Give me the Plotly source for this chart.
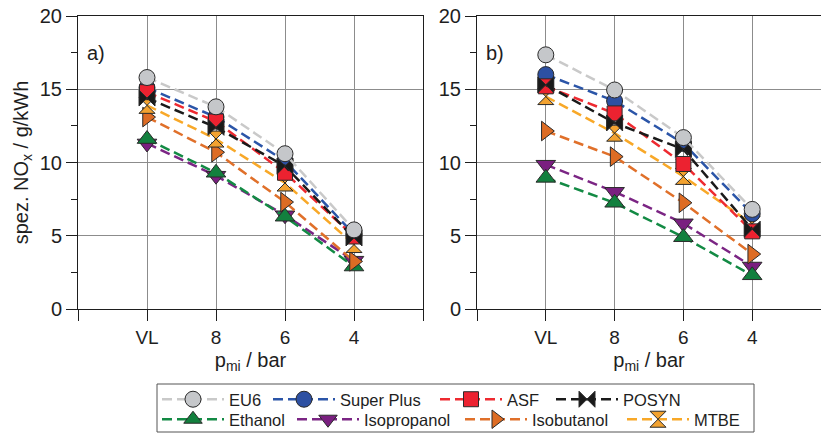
import plotly.graph_objects as go

# ---------------- data ----------------
categories = ["VL", "8", "6", "4"]

series_names = ["EU6", "Super Plus", "ASF", "POSYN",
                "Ethanol", "Isopropanol", "Isobutanol", "MTBE"]

# panel a)
eu6_a = [15.8, 13.8, 10.6, 5.4]
superplus_a = [15.1, 13.1, 10.1, 5.1]
asf_a = [14.8, 12.8, 9.3, 4.95]
posyn_a = [14.4, 12.4, 9.75, 4.85]
ethanol_a = [11.6, 9.3, 6.3, 2.9]
isopropanol_a = [11.3, 9.1, 6.4, 3.3]
isobutanol_a = [13.1, 10.7, 7.3, 3.25]
mtbe_a = [13.9, 11.6, 8.6, 4.4]

# panel b)
eu6_b = [17.35, 14.95, 11.7, 6.8]
superplus_b = [16.0, 14.2, 11.3, 6.5]
asf_b = [15.2, 13.35, 9.9, 5.3]
posyn_b = [15.3, 12.7, 10.9, 5.45]
ethanol_b = [8.95, 7.25, 4.9, 2.3]
isopropanol_b = [9.85, 8.0, 5.85, 2.9]
isobutanol_b = [12.15, 10.4, 7.25, 3.75]
mtbe_b = [14.5, 12.0, 9.05, 5.8]

values_a = {"EU6": eu6_a, "Super Plus": superplus_a, "ASF": asf_a, "POSYN": posyn_a,
            "Ethanol": ethanol_a, "Isopropanol": isopropanol_a,
            "Isobutanol": isobutanol_a, "MTBE": mtbe_a}
values_b = {"EU6": eu6_b, "Super Plus": superplus_b, "ASF": asf_b, "POSYN": posyn_b,
            "Ethanol": ethanol_b, "Isopropanol": isopropanol_b,
            "Isobutanol": isobutanol_b, "MTBE": mtbe_b}

# ---------------- styles ----------------
styles = {
    "EU6":         dict(line="#c9c9c9", fill="#c5c7ca", symbol="circle", size=16),
    "Super Plus":  dict(line="#2b55a8", fill="#2d50a2", symbol="circle", size=16),
    "ASF":         dict(line="#ee2a30", fill="#ec2230", symbol="square", size=15),
    "POSYN":       dict(line="#1a1a1a", fill="#1a1a1a", symbol="bowtie", size=16),
    "Ethanol":     dict(line="#138a44", fill="#12803e", symbol="triangle-up", size=17),
    "Isopropanol": dict(line="#7b2584", fill="#7a1f80", symbol="triangle-down", size=17),
    "Isobutanol":  dict(line="#e0702a", fill="#dd6c24", symbol="triangle-right", size=17),
    "MTBE":        dict(line="#f8a828", fill="#f2a230", symbol="hourglass", size=16),
}
# drawing order (last on top)
draw_order = ["Isopropanol", "Ethanol", "Isobutanol", "MTBE",
              "Super Plus", "ASF", "POSYN", "EU6"]

# legend entry placement (pixel coords of the start of the legend line, row centre)
legend_slots = {
    "EU6": (162, 399), "Super Plus": (273, 399), "ASF": (440, 399), "POSYN": (556, 399),
    "Ethanol": (162, 419), "Isopropanol": (297, 419), "Isobutanol": (465, 419), "MTBE": (627, 419),
}

xpos = list(range(len(categories)))

# ---------------- geometry ----------------
W, H = 821, 433
L, R, T = 78, 0, 16
B = H - 309
pw = W - L - R
ph = H - T - B
FONT = "Liberation Sans, Arial, Helvetica, sans-serif"
ink = "#1e1e1e"
grid = "#8c8c8c"


def px_x(px):
    return (px - L) / pw


def px_y(py):
    return (H - B - py) / ph


fig = go.Figure()
legend_ids = {name: ("legend" if i == 0 else "legend%d" % (i + 1))
              for i, name in enumerate(series_names)}

for panel, vals, xa, ya in [("a", values_a, "x", "y"), ("b", values_b, "x2", "y2")]:
    for name in draw_order:
        st = styles[name]
        fig.add_trace(go.Scatter(
            x=xpos, y=vals[name], mode="lines+markers", name=name,
            xaxis=xa, yaxis=ya,
            line=dict(color=st["line"], width=2.5, dash="10px,5px"),
            marker=dict(symbol=st["symbol"], size=st["size"], color=st["fill"],
                        line=dict(color="#2a2a2a", width=1)),
            showlegend=(panel == "a"),
            legend=legend_ids[name],
        ))

xcommon = dict(range=[-1, 4], tickmode="array", tickvals=xpos,
               ticktext=categories, ticks="outside", ticklen=11,
               tickwidth=1, tickcolor=ink, showgrid=True, gridcolor=grid, gridwidth=1,
               showline=True, linecolor=ink, linewidth=1, mirror=True, zeroline=False,
               minor=dict(tickmode="linear", tick0=0, dtick=1, ticks="outside", ticklen=11,
                          tickcolor=ink, showgrid=True, gridcolor=grid, gridwidth=1),
               ticklabeloverflow="allow",
               tickfont=dict(size=19, color=ink, family=FONT),
               title=dict(text="p<sub>mi</sub> / bar", font=dict(size=20, color=ink, family=FONT),
                          standoff=6))
ycommon = dict(range=[0, 20], tickmode="linear", tick0=0, dtick=5, ticks="outside", ticklen=11,
               tickwidth=1, tickcolor=ink, showgrid=True, gridcolor=grid, gridwidth=1,
               showline=True, linecolor=ink, linewidth=1, zeroline=False,
               minor=dict(dtick=2.5, tick0=0, ticks="outside", ticklen=6, tickcolor=ink,
                          showgrid=False),
               ticklabeloverflow="allow",
               tickfont=dict(size=20, color=ink, family=FONT))

layout = dict(
    width=W, height=H, autosize=False,
    margin=dict(l=L, r=R, t=T, b=B, autoexpand=False),
    paper_bgcolor="white", plot_bgcolor="white",
    font=dict(family=FONT, color=ink),
    xaxis=dict(domain=[0, px_x(423)], anchor="y", **xcommon),
    xaxis2=dict(domain=[px_x(477), 1], anchor="y2", **xcommon),
    yaxis=dict(domain=[0, 1], anchor="x", mirror=True,
               title=dict(text="spez. NO<sub>x</sub> / g/kWh",
                          font=dict(size=20, color=ink, family=FONT), standoff=5),
               **ycommon),
    yaxis2=dict(domain=[0, 1], anchor="x2", mirror=False, **ycommon),
    shapes=[dict(type="rect", xref="paper", yref="paper",
                 x0=px_x(157), x1=px_x(754), y0=px_y(432), y1=px_y(384),
                 line=dict(color="#555555", width=1), fillcolor="rgba(0,0,0,0)")],
    annotations=[
        dict(text="a)", xref="x domain", yref="y domain", x=0, y=px_y(53), xshift=7,
             xanchor="left", yanchor="middle", showarrow=False,
             font=dict(size=20, color=ink, family=FONT)),
        dict(text="b)", xref="x2 domain", yref="y2 domain", x=0, y=px_y(53), xshift=7,
             xanchor="left", yanchor="middle", showarrow=False,
             font=dict(size=20, color=ink, family=FONT)),
    ],
)

for name in series_names:
    lx, ly = legend_slots[name]
    layout[legend_ids[name]] = dict(
        orientation="h", xref="paper", yref="paper",
        x=px_x(lx - 5), y=px_y(ly - 17), xanchor="left", yanchor="top",
        bgcolor="rgba(0,0,0,0)", borderwidth=0, itemwidth=62,
        font=dict(size=16.5, color=ink, family=FONT))

fig.update_layout(**layout)

# remove the default 8px page margin so the figure sits at the window's top-left corner
fig.write_html("out.html", config={"displayModeBar": False},
               post_script="document.body.style.margin='0px';")
